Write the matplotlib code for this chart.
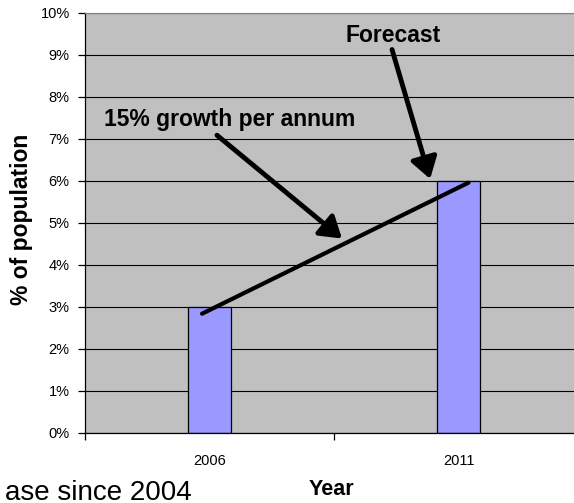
import numpy as np
import matplotlib
matplotlib.use('Agg')
import matplotlib.pyplot as plt
from matplotlib.ticker import FuncFormatter

plt.rcParams['font.family'] = ['Liberation Sans', 'DejaVu Sans']

# data
years = ['2006', '2011']
share = [3, 6]                 # % of population
trend_x = [-0.03, 1.04]        # growth line, category units
trend_y = [2.84, 5.96]

fig = plt.figure(figsize=(5.74, 5.03), dpi=100)
ax = fig.add_axes([85/574, 70/503, 498/574, 420/503])

x = np.arange(len(years))
ax.set_facecolor('#c0c0c0')
ax.bar(x, share, width=0.17, color='#9999ff', edgecolor='black', linewidth=0.9, zorder=2)

ax.set_xlim(-0.5, 1.5)
ax.set_ylim(0, 10)
ax.set_yticks(np.arange(0, 11, 1))
ax.yaxis.set_major_formatter(FuncFormatter(lambda v, p: '%d%%' % v))
ax.grid(axis='y', color='black', linewidth=0.8)
ax.set_axisbelow(True)

ax.set_xticks(x)
ax.set_xticklabels(years)
ax.set_xticks([-0.5, 0.5, 1.5], minor=True)
ax.tick_params(axis='x', which='major', length=0, pad=15, labelsize=10.5)
ax.tick_params(axis='x', which='minor', length=5, direction='out', width=0.9)
ax.tick_params(axis='y', length=5, direction='out', width=0.9, pad=6, labelsize=10.5)

for s in ['top', 'right']:
    ax.spines[s].set_color('#808080')
ax.spines['left'].set_linewidth(0.9)
ax.spines['bottom'].set_linewidth(0.9)

# growth line
ax.plot(trend_x, trend_y, color='black', linewidth=3, solid_capstyle='round', zorder=4)

# annotations
arrow = dict(arrowstyle='-|>,head_length=0.7,head_width=0.45', color='black',
             lw=3.5, mutation_scale=18, shrinkA=0, shrinkB=0)
ax.annotate('', xy=(0.532, 4.63), xytext=(0.03, 7.09), arrowprops=arrow, zorder=5)
ax.text(0.082, 7.47, '15% growth per annum', ha='center', va='center',
        fontsize=16.5, fontweight='bold')
ax.annotate('', xy=(0.886, 6.05), xytext=(0.733, 9.13), arrowprops=arrow, zorder=5)
ax.text(0.737, 9.46, 'Forecast', ha='center', va='center',
        fontsize=16.5, fontweight='bold')

fig.text(22/574, 1 - 219/503, '% of population', rotation=90, ha='center', va='center',
         fontsize=16.5, fontweight='bold')
fig.text(331/574, 1 - 495/503, 'Year', ha='center', va='baseline',
         fontsize=15.5, fontweight='bold')
fig.text(192/574, 3/503, 'ase since 2004', ha='right', va='baseline', fontsize=20)

fig.savefig('out.png', dpi=100)
